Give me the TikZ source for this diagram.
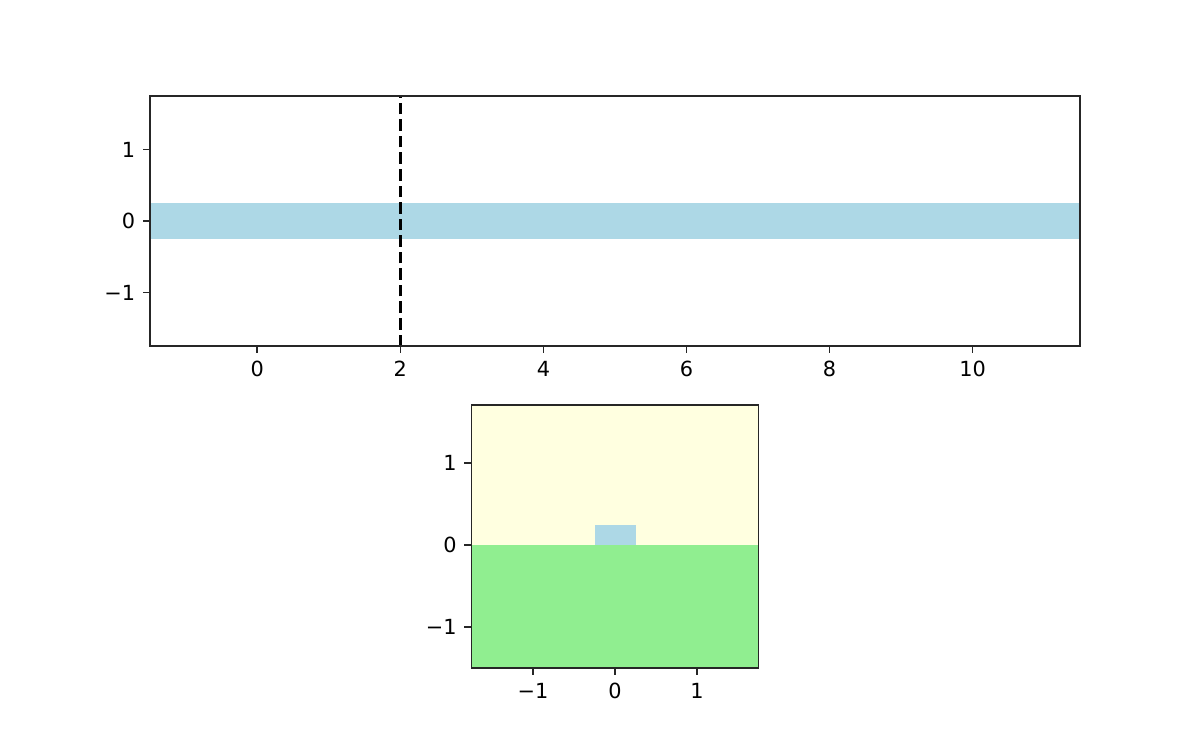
\documentclass[tikz,border=0pt]{standalone}
\usepackage{fontspec}
\setmainfont{DejaVu Sans}
\usepackage{tikz}
\usetikzlibrary{positioning}
\definecolor{lightblue}{HTML}{ADD8E6}
\definecolor{lightgreen}{HTML}{90EE90}
\definecolor{lightyellow}{HTML}{FFFFE0}
\tikzset{
  frame/.style={draw=black!85, line width=0.8pt},
  tickmark/.style={draw=black!85, line width=0.8pt},
  ticklabel/.style={font=\fontsize{10}{12}\selectfont, inner sep=0pt}
}
\begin{document}
\begin{tikzpicture}[x=0.48pt, y=-0.48pt]
  \useasboundingbox (0,0) rectangle (1200,750);
  % upper panel: long strip
  \begin{scope}[shift={(257.3,221)}, x=34.33pt, y=34.33pt]
    \fill[lightblue] (-1.5,-0.25) rectangle (11.5,0.25);
    \draw[line width=1.5pt, dash pattern=on 5.55pt off 2.4pt] (2,-1.75) -- (2,1.75);
    \draw[frame] (-1.5,-1.75) rectangle (11.5,1.75);
    \foreach \x in {0,2,...,10} {
      \draw[tickmark] (\x,-1.75) -- ++(0pt,-3.5pt);
      \node[ticklabel, anchor=north] (topx\x) at ([yshift=-7pt]\x,-1.75) {\x};
    }
    \foreach \y/\lab/\nm in {1/1/a, 0/0/b, -1/−1/c} {
      \draw[tickmark] (-1.5,\y) -- ++(-3.5pt,0pt);
      \node[ticklabel, anchor=east] (topy\nm) at ([xshift=-7pt]-1.5,\y) {\lab};
    }
  \end{scope}
  % lower panel: square
  \begin{scope}[shift={(615,545)}, x=39.36pt, y=39.36pt]
    \fill[lightyellow] (-1.75,0) rectangle (1.75,1.71);
    \fill[lightgreen] (-1.75,-1.5) rectangle (1.75,0);
    \fill[lightblue] (-0.25,0) rectangle (0.25,0.25);
    \draw[frame] (-1.75,-1.5) rectangle (1.75,1.71);
    \foreach \x/\lab/\nm in {-1/−1/a, 0/0/b, 1/1/c} {
      \draw[tickmark] (\x,-1.5) -- ++(0pt,-3.5pt);
      \node[ticklabel, anchor=north] (botx\nm) at ([yshift=-7pt]\x,-1.5) {\lab};
    }
    \foreach \y/\lab/\nm in {1/1/a, 0/0/b, -1/−1/c} {
      \draw[tickmark] (-1.75,\y) -- ++(-3.5pt,0pt);
      \node[ticklabel, anchor=east] (boty\nm) at ([xshift=-7pt]-1.75,\y) {\lab};
    }
  \end{scope}
\end{tikzpicture}
\end{document}
